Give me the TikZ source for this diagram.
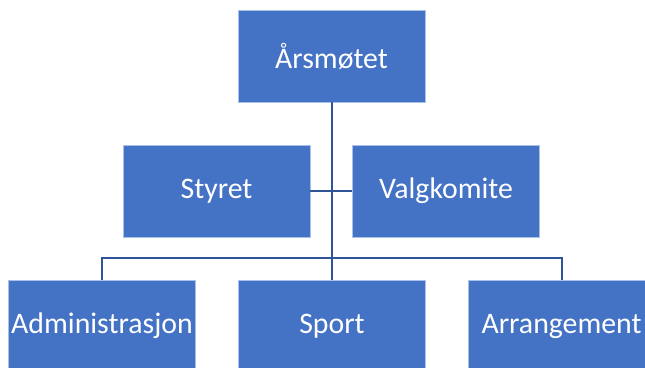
\documentclass[tikz,border=0pt]{standalone}
\usepackage{fontspec}
\setmainfont{Carlito}
\definecolor{boxblue}{HTML}{4472C4}
\definecolor{lineblue}{HTML}{2F5597}
\definecolor{edge}{HTML}{A9C0E8}
\begin{document}
\begin{tikzpicture}[x=1pt,y=-1pt,
  orgbox/.style={rectangle, fill=boxblue, draw=edge, line width=0.6pt,
    minimum width=187pt, minimum height=92pt, inner sep=0pt,
    text=white, font=\fontsize{29.8}{34}\selectfont},
  link/.style={draw=lineblue, line width=2pt}]
\useasboundingbox (0,0) rectangle (645,367);
\clip (0,0) rectangle (645,367);
\node[orgbox] (top) at (331.5,56) {Årsmøtet};
\node[orgbox] (styret) at (216.5,191) {Styret};
\node[orgbox] (valg) at (446,191) {Valgkomite};
\node[orgbox] (admin) at (102,326) {Administrasjon};
\node[orgbox] (sport) at (332,326) {Sport};
\node[orgbox] (arr) at (561.5,326) {Arrangement};
\coordinate (bus) at (331,258);
\draw[link] (top.south) -- (top.south |- sport.north);
\draw[link] (styret.east) -- (valg.west);
\draw[link] (admin.north) -- (admin.north |- bus) -- (arr.north |- bus) -- (arr.north);
\end{tikzpicture}
\end{document}
